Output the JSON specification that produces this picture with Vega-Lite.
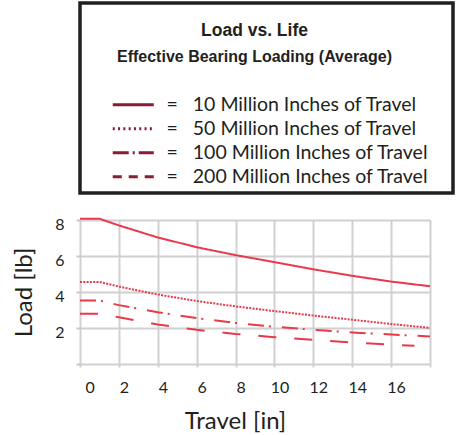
{
  "$schema": "https://vega.github.io/schema/vega-lite/v6.json",
  "background": "white",
  "padding": {"left": 12, "top": 1, "right": 0, "bottom": 0},
  "autosize": {"type": "pad"},
  "config": {
    "font": "Lato",
    "view": {"stroke": null}
  },
  "datasets": {
    "loads": [
      {"series": "10 Million Inches of Travel", "travel": 0, "load": 8.07},
      {"series": "10 Million Inches of Travel", "travel": 1, "load": 8.07},
      {"series": "10 Million Inches of Travel", "travel": 2, "load": 7.70},
      {"series": "10 Million Inches of Travel", "travel": 4, "load": 7.03},
      {"series": "10 Million Inches of Travel", "travel": 6, "load": 6.49},
      {"series": "10 Million Inches of Travel", "travel": 8, "load": 6.05},
      {"series": "10 Million Inches of Travel", "travel": 10, "load": 5.66},
      {"series": "10 Million Inches of Travel", "travel": 12, "load": 5.26},
      {"series": "10 Million Inches of Travel", "travel": 14, "load": 4.90},
      {"series": "10 Million Inches of Travel", "travel": 16, "load": 4.58},
      {"series": "10 Million Inches of Travel", "travel": 18, "load": 4.32},
      {"series": "50 Million Inches of Travel", "travel": 0, "load": 4.56},
      {"series": "50 Million Inches of Travel", "travel": 1, "load": 4.56},
      {"series": "50 Million Inches of Travel", "travel": 2, "load": 4.30},
      {"series": "50 Million Inches of Travel", "travel": 4, "load": 3.86},
      {"series": "50 Million Inches of Travel", "travel": 6, "load": 3.50},
      {"series": "50 Million Inches of Travel", "travel": 8, "load": 3.20},
      {"series": "50 Million Inches of Travel", "travel": 10, "load": 2.94},
      {"series": "50 Million Inches of Travel", "travel": 12, "load": 2.69},
      {"series": "50 Million Inches of Travel", "travel": 14, "load": 2.46},
      {"series": "50 Million Inches of Travel", "travel": 16, "load": 2.22},
      {"series": "50 Million Inches of Travel", "travel": 18, "load": 2.01},
      {"series": "100 Million Inches of Travel", "travel": 0, "load": 3.53},
      {"series": "100 Million Inches of Travel", "travel": 1, "load": 3.53},
      {"series": "100 Million Inches of Travel", "travel": 2, "load": 3.27},
      {"series": "100 Million Inches of Travel", "travel": 4, "load": 2.87},
      {"series": "100 Million Inches of Travel", "travel": 6, "load": 2.55},
      {"series": "100 Million Inches of Travel", "travel": 8, "load": 2.28},
      {"series": "100 Million Inches of Travel", "travel": 10, "load": 2.07},
      {"series": "100 Million Inches of Travel", "travel": 12, "load": 1.90},
      {"series": "100 Million Inches of Travel", "travel": 14, "load": 1.75},
      {"series": "100 Million Inches of Travel", "travel": 16, "load": 1.64},
      {"series": "100 Million Inches of Travel", "travel": 18, "load": 1.53},
      {"series": "200 Million Inches of Travel", "travel": 0, "load": 2.79},
      {"series": "200 Million Inches of Travel", "travel": 1, "load": 2.79},
      {"series": "200 Million Inches of Travel", "travel": 2, "load": 2.60},
      {"series": "200 Million Inches of Travel", "travel": 4, "load": 2.19},
      {"series": "200 Million Inches of Travel", "travel": 6, "load": 1.90},
      {"series": "200 Million Inches of Travel", "travel": 8, "load": 1.67},
      {"series": "200 Million Inches of Travel", "travel": 10, "load": 1.49},
      {"series": "200 Million Inches of Travel", "travel": 12, "load": 1.34},
      {"series": "200 Million Inches of Travel", "travel": 14, "load": 1.19},
      {"series": "200 Million Inches of Travel", "travel": 16, "load": 1.08},
      {"series": "200 Million Inches of Travel", "travel": 17.2, "load": 1.01}
    ]
  },
  "spacing": 27,
  "bounds": "flush",
  "vconcat": [
    {
      "width": 373,
      "height": 190,
      "view": {"stroke": "#231f20", "strokeWidth": 3.5, "fill": "white"},
      "title": {
        "text": "Load vs. Life",
        "subtitle": "Effective Bearing Loading (Average)",
        "offset": -62,
        "dx": -12,
        "anchor": "middle",
        "font": "Liberation Sans",
        "fontSize": 17.5,
        "fontWeight": "bold",
        "color": "#231f20",
        "subtitleFont": "Liberation Sans",
        "subtitleFontSize": 16,
        "subtitleFontWeight": "bold",
        "subtitleColor": "#231f20",
        "subtitlePadding": 10
      },
      "data": {"values": []},
      "mark": "text",
      "encoding": {}
    },
    {
      "width": 350,
      "height": 144,
      "data": {"name": "loads"},
      "encoding": {
        "x": {
          "field": "travel",
          "type": "quantitative",
          "scale": {"domain": [0, 18], "nice": false, "zero": false},
          "axis": {
            "title": "Travel [in]",
            "values": [0, 2, 4, 6, 8, 10, 12, 14, 16, 18],
            "labelExpr": "datum.value == 18 ? '' : datum.label",
            "grid": true,
            "gridColor": "#d0d0d0",
            "gridWidth": 2,
            "domain": false,
            "ticks": true,
            "tickSize": 3,
            "tickWidth": 2,
            "tickColor": "#d0d0d0",
            "labelFont": "Lato",
            "labelFontSize": 16,
            "labelColor": "#231f20",
            "labelPadding": 12,
            "labelOffset": 5,
            "titleFont": "Lato",
            "titleFontSize": 24,
            "titleFontWeight": "normal",
            "titleColor": "#231f20",
            "titlePadding": 14,
            "titleX": 155
          }
        },
        "y": {
          "field": "load",
          "type": "quantitative",
          "scale": {"domain": [0, 8], "nice": false},
          "axis": {
            "title": "Load [lb]",
            "values": [0, 2, 4, 6, 8],
            "labelExpr": "datum.value == 0 ? '' : datum.label",
            "grid": true,
            "gridColor": "#d0d0d0",
            "gridWidth": 2,
            "domain": false,
            "ticks": true,
            "tickSize": 4,
            "tickWidth": 2,
            "tickColor": "#c8c8c8",
            "labelFont": "Lato",
            "labelFontSize": 16,
            "labelColor": "#231f20",
            "labelPadding": 12,
            "labelOffset": 4,
            "titleFont": "Lato",
            "titleFontSize": 24,
            "titleFontWeight": "normal",
            "titleColor": "#231f20",
            "titlePadding": 18
          }
        }
      },
      "layer": [
        {
          "mark": {"type": "line", "color": "#e8394a", "strokeWidth": 2, "clip": false},
          "encoding": {
            "strokeDash": {
              "field": "series",
              "type": "nominal",
              "sort": null,
              "scale": {
                "domain": ["10 Million Inches of Travel", "50 Million Inches of Travel", "100 Million Inches of Travel", "200 Million Inches of Travel"],
                "range": [[1, 0], [2, 1.3], [16, 5, 2, 11], [18, 18]]
              },
              "legend": null
            }
          }
        },
        {
          "transform": [{"filter": "false"}],
          "mark": {"type": "line", "color": "#8b1a33", "strokeWidth": 3},
          "encoding": {
            "strokeDash": {
              "field": "series",
              "type": "nominal",
              "sort": null,
              "scale": {
                "domain": ["10 Million Inches of Travel", "50 Million Inches of Travel", "100 Million Inches of Travel", "200 Million Inches of Travel"],
                "range": [[1, 0], [2, 3.3], [16, 4, 2, 4], [9, 7]]
              },
              "legend": {
                "orient": "none",
                "legendX": 28,
                "legendY": -125,
                "title": null,
                "padding": 0,
                "symbolType": "M-1,0H7.2",
                "symbolSize": 100,
                "symbolStrokeWidth": 3,
                "symbolFillColor": "transparent",
                "symbolStrokeColor": "#8b1a33",
                "labelFont": "Lato",
                "labelFontSize": 19.5,
                "labelColor": "#231f20",
                "labelOffset": 39,
                "labelLimit": 0,
                "rowPadding": 3,
                "labelExpr": "'=\u00a0\u00a0 ' + datum.label"
              }
            }
          }
        }
      ],
      "resolve": {"scale": {"strokeDash": "independent"}}
    }
  ]
}
